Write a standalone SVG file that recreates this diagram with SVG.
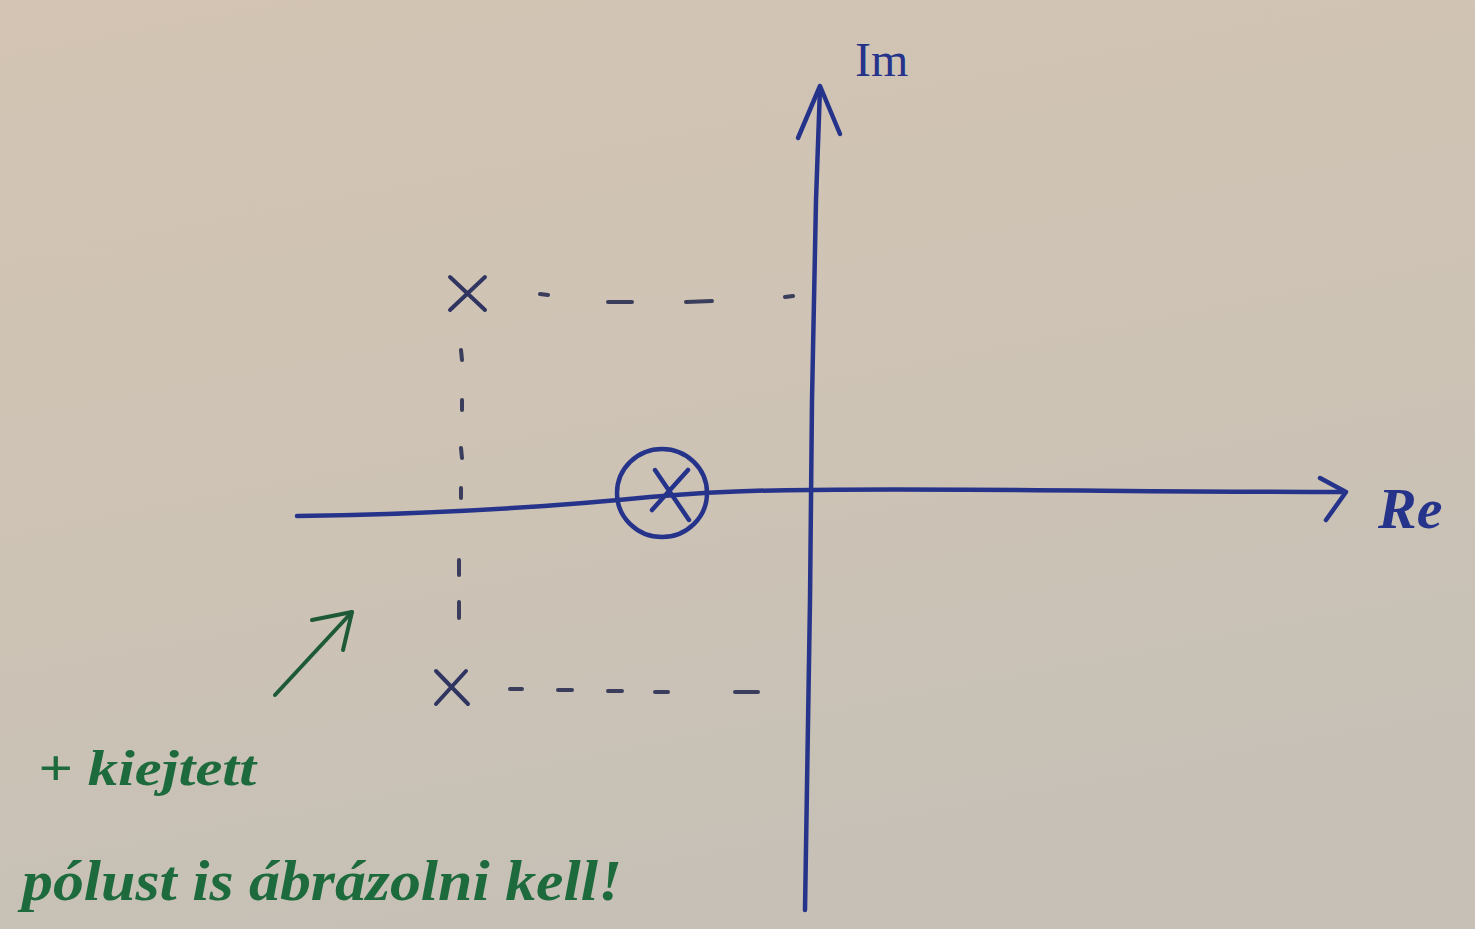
<svg xmlns="http://www.w3.org/2000/svg" width="1475" height="929" viewBox="0 0 1475 929">
<defs>
<linearGradient id="paper" x1="0" y1="0" x2="0.3" y2="1">
<stop offset="0" stop-color="#d3c4b3"/>
<stop offset="0.6" stop-color="#cdc3b5"/>
<stop offset="1" stop-color="#c6c0b6"/>
</linearGradient>
<style>
.ink{fill:none;stroke:#26338a;stroke-width:4.5;stroke-linecap:round;stroke-linejoin:round}
.pencil{fill:none;stroke:#2f3560;stroke-width:4;stroke-linecap:round}
.dash{fill:none;stroke:#3a3d5c;stroke-width:4;stroke-linecap:round}
.green{fill:none;stroke:#1e5a38;stroke-width:4;stroke-linecap:round;stroke-linejoin:round}
.lbl{font-family:"Liberation Serif",serif;fill:#26338a}
.note{font-family:"Liberation Serif",serif;font-style:italic;font-weight:bold;fill:#1d6a3c}
</style>
</defs>
<rect width="1475" height="929" fill="url(#paper)"/>
<g id="connectors">
<path class="ink" d="M805 910 L810 600 L812 400 L816 200 L820 88"/>
<path class="ink" d="M798 138 L820 86 L840 134"/>
<path class="ink" d="M297 516 C450 514 560 506 650 497 C720 491 770 490 810 490 C950 488 1150 492 1345 492"/>
<path class="ink" d="M1320 478 L1346 492 L1326 520"/>
<path class="dash" d="M540 294 L548 295 M608 302 L632 302 M686 302 L712 301 M785 297 L793 296"/>
<path class="dash" d="M510 689 L522 689 M558 690 L572 690 M608 691 L622 691 M655 692 L668 692 M735 692 L758 692"/>
<path class="dash" d="M461 350 L462 360 M462 400 L462 410 M461 448 L462 458 M461 488 L461 498 M459 560 L459 575 M459 602 L459 618"/>
<path class="green" d="M275 695 L352 612"/>
<path class="green" d="M312 620 L352 612 L343 650"/>
</g>
<g id="im-axis-label"><text class="lbl" x="855" y="76" font-size="48">Im</text></g>
<g id="re-axis-label"><text class="lbl" x="1378" y="528" font-size="58" font-weight="bold" font-style="italic">Re</text></g>
<g id="pole-top">
<path class="pencil" d="M450 277 L485 310 M485 277 L450 310"/>
</g>
<g id="pole-bottom">
<path class="pencil" d="M436 671 L468 704 M466 671 L436 704"/>
</g>
<g id="cancelled-pole">
<ellipse class="ink" cx="662" cy="493" rx="45" ry="44" stroke-width="5"/>
<path class="ink" d="M655 470 L689 520 M688 470 L652 510"/>
</g>
<g id="note">
<text class="note" x="38" y="785" font-size="50" textLength="218" lengthAdjust="spacingAndGlyphs">+ kiejtett</text>
<text class="note" x="22" y="900" font-size="56" textLength="600" lengthAdjust="spacingAndGlyphs">pólust is ábrázolni kell!</text>
</g>
</svg>
